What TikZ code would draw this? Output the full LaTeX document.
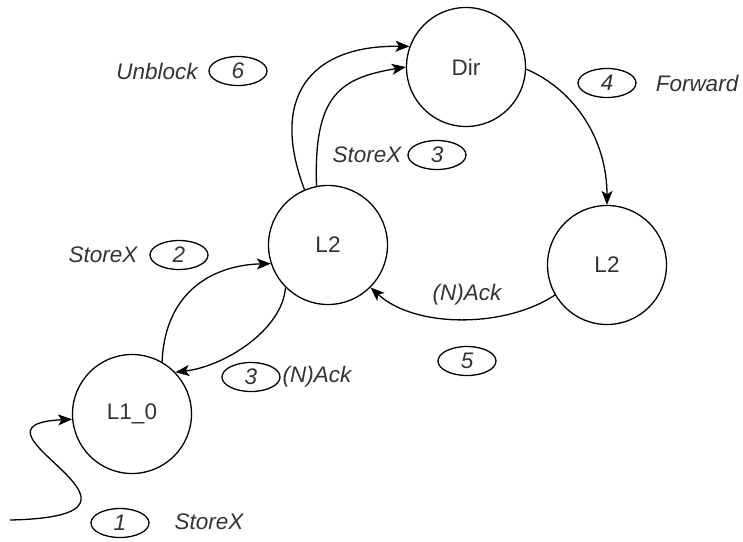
\documentclass[tikz,border=0pt]{standalone}
\usepackage{fontspec}
\setmainfont{Liberation Sans}
\usetikzlibrary{arrows.meta,shapes.geometric}
\definecolor{ink}{HTML}{333333}
\begin{document}
\begin{tikzpicture}[x=1pt,y=-1pt,
  state/.style={circle,draw,line width=1.3pt,minimum size=119pt,inner sep=0pt,
    font=\fontsize{22.5}{26}\selectfont,text=ink},
  stepno/.style={ellipse,draw,line width=1.3pt,minimum width=58pt,minimum height=29pt,
    inner sep=0pt,font=\fontsize{22.5}{26}\selectfont\itshape,text=ink},
  lbl/.style={font=\fontsize{22.5}{26}\selectfont\itshape,text=ink,inner sep=0pt},
  msg/.style={line width=1.3pt,-{Stealth[length=14pt,width=11pt,inset=3.5pt]}}]
\useasboundingbox (0,0) rectangle (743,541);

% controllers
\node[state] (dir) at (466,67) {Dir};
\node[state] (l2) at (328,245) {L2};
\node[state] (l2r) at (607,265) {L2};
\node[state] (l1) at (132,414) {L1\_0};

% step numbers and message names
\node[lbl] (t6) at (157,71) {Unblock};
\node[stepno] (s6) at (238,71) {6};
\node[lbl] (t3a) at (367,155) {StoreX};
\node[stepno] (s3a) at (437,155) {3};
\node[stepno] (s4) at (607,83) {4};
\node[lbl] (t4) at (697,83) {Forward};
\node[lbl] (t2) at (103,255) {StoreX};
\node[stepno] (s2) at (179,255) {2};
\node[stepno] (s3b) at (251,377) {3};
\node[lbl] (t3b) at (317,377) {(N)Ack};
\node[stepno] (s5) at (467,361) {5};
\node[lbl] (t5) at (467,295) {(N)Ack};
\node[stepno] (s1) at (120,523) {1};
\node[lbl] (t1) at (209,522) {StoreX};

% request enters from the core
\coordinate (core) at (10,520);
\draw[msg] (core) .. controls +(185,-4) and +(-125,6) .. (l1.185);

% L1 <-> L2
\draw[msg] (l1.60) .. controls +(3,-72) and +(-56,1.5) .. (l2.198);
\draw[msg] (l2.225) .. controls +(-3,42) and +(50,-6) .. (l1.44);

% L2 -> directory
\draw[msg] (l2.113) .. controls +(-35,-92) and +(-100,-1.5) .. (dir.160);
\draw[msg] (l2.101) .. controls +(-3,-91) and +(-66,11) .. (dir.180);

% directory forwards to the owner
\draw[msg] (dir.-2) .. controls +(49,21) and +(0,-65) .. (l2r.90);

% owner answers the requester
\draw[msg] (l2r.210) .. controls +(-50,33) and +(45,41) .. (l2.315);
\end{tikzpicture}
\end{document}
